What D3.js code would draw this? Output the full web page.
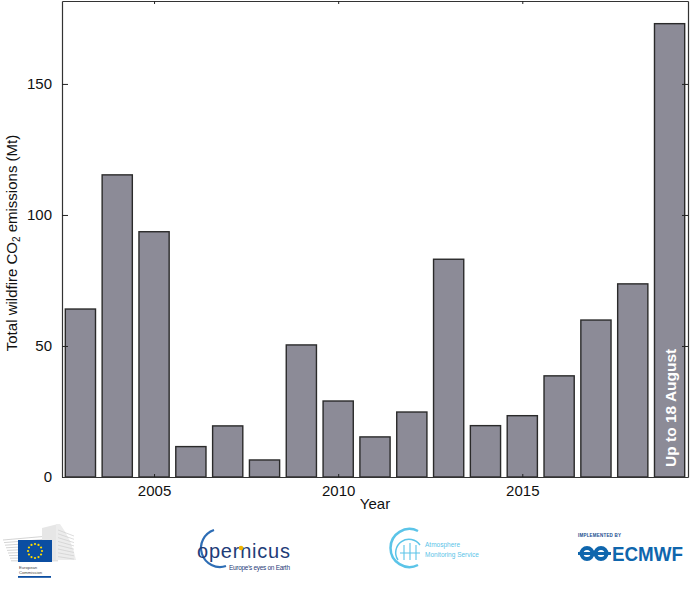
<!DOCTYPE html>
<html>
<head>
<meta charset="utf-8">
<script src="https://cdn.jsdelivr.net/npm/d3@7"></script>
<style>
  body { margin: 0; background: #fff; }
  svg { display: block; font-family: "Liberation Sans", Arial, Helvetica, sans-serif; }
</style>
</head>
<body>
<svg id="chart" width="690" height="610"></svg>
<script>
// ---- data ----
const years = [2003, 2004, 2005, 2006, 2007, 2008, 2009, 2010, 2011, 2012, 2013, 2014, 2015, 2016, 2017, 2018, 2019];
const emissions = [64.1, 115.3, 93.6, 11.6, 19.5, 6.5, 50.4, 29.0, 15.3, 24.8, 83.1, 19.6, 23.4, 38.6, 59.9, 73.7, 173.0];
const yTicks = [0, 50, 100, 150];
const xTicks = [2005, 2010, 2015];
const xLabel = "Year";
const noteText = "Up to 18 August";

// ---- layout ----
const svg = d3.select("#chart");
const m = { left: 62, right: 688, top: 1, bottom: 477 };
const x = d3.scaleLinear().domain([2002.5, 2019.5]).range([m.left, m.right]);
const y = d3.scaleLinear().domain([0, 173.0 * 1.05]).range([m.bottom, m.top]);
const barHalf = 0.41;

const data = years.map((yr, i) => ({ year: yr, value: emissions[i] }));

// bars
svg.append("g").selectAll("rect").data(data).join("rect")
  .attr("x", d => x(d.year - barHalf))
  .attr("width", d => x(d.year + barHalf) - x(d.year - barHalf))
  .attr("y", d => y(d.value))
  .attr("height", d => y(0) - y(d.value))
  .attr("fill", "#8c8b97")
  .attr("stroke", "#2a2a2a")
  .attr("stroke-width", 1.4);

// note inside last bar
const last = data[data.length - 1];
svg.append("text")
  .attr("transform", `translate(${x(last.year) + 6},${y(0) - 10}) rotate(-90)`)
  .attr("fill", "#fff")
  .attr("font-weight", "bold")
  .attr("font-size", 15.5)
  .text(noteText);

// axes
function styleAxis(g) {
  g.select(".domain").attr("stroke", "#333").attr("stroke-width", 1.2);
  g.selectAll(".tick line").attr("stroke", "#222").attr("stroke-width", 1);
  g.selectAll(".tick text").attr("fill", "#111").attr("font-size", 15)
    .attr("font-family", "'Liberation Sans', Arial, sans-serif");
}
svg.append("g").attr("transform", `translate(${m.left},0)`)
  .call(d3.axisLeft(y).tickValues(yTicks).tickSizeInner(-6).tickSizeOuter(0).tickPadding(10))
  .call(styleAxis);
svg.append("g").attr("transform", `translate(${m.right},0)`)
  .call(d3.axisRight(y).tickValues(yTicks).tickSizeInner(-6).tickSizeOuter(0).tickFormat(""))
  .call(styleAxis);
svg.append("g").attr("transform", `translate(0,${m.bottom})`)
  .call(d3.axisBottom(x).tickValues(xTicks).tickSizeInner(-3).tickSizeOuter(0).tickPadding(8).tickFormat(d3.format("d")))
  .call(styleAxis);
svg.append("g").attr("transform", `translate(0,${m.top})`)
  .call(d3.axisTop(x).tickValues(xTicks).tickSizeInner(-3).tickSizeOuter(0).tickFormat(""))
  .call(styleAxis);

// axis titles
svg.append("text")
  .attr("x", (m.left + m.right) / 2).attr("y", 509)
  .attr("text-anchor", "middle").attr("font-size", 15).attr("fill", "#111")
  .text(xLabel);

const yl = svg.append("text")
  .attr("transform", `translate(17,${(m.top + m.bottom) / 2 + 4}) rotate(-90)`)
  .attr("text-anchor", "middle").attr("font-size", 15).attr("fill", "#111");
yl.append("tspan").text("Total wildfire CO");
yl.append("tspan").attr("font-size", 10).attr("dy", 3).text("2");
yl.append("tspan").attr("dy", -3).text(" emissions (Mt)");

// ---- logos (simplified) ----
const logos = svg.append("g");

// European Commission
const ec = logos.append("g");
for (let i = 0; i < 9; i++) {
  ec.append("line").attr("x1", 3 + i * 1).attr("x2", 58)
    .attr("y1", 540 + i * 2.6).attr("y2", 540 + i * 2.6 - (8 - i) * 0.6)
    .attr("stroke", "#c9c9c9").attr("stroke-width", 0.8);
}
ec.append("path").attr("d", "M 42 528 L 58 524 L 58 560 L 42 560 Z").attr("fill", "#e6e6e6");
ec.append("path").attr("d", "M 56 524 L 60 524 Q 72 540 76 560 L 56 560 Z").attr("fill", "#ececec");
for (let i = 0; i < 8; i++) {
  ec.append("line").attr("x1", 58).attr("x2", 74)
    .attr("y1", 530 + i * 3.8).attr("y2", 536 + i * 3.3)
    .attr("stroke", "#cfcfcf").attr("stroke-width", 0.7);
}
ec.append("rect").attr("x", 18).attr("y", 540).attr("width", 34).attr("height", 22).attr("fill", "#0b4ea2");
d3.range(12).forEach(k => {
  const a = k / 12 * 2 * Math.PI;
  ec.append("circle").attr("cx", 35 + 7 * Math.cos(a)).attr("cy", 551 + 7 * Math.sin(a)).attr("r", 1.1).attr("fill", "#ffdd00");
});
ec.append("text").attr("x", 19).attr("y", 568.5).attr("font-size", 4.2).attr("fill", "#444").text("European");
ec.append("text").attr("x", 19).attr("y", 574).attr("font-size", 4.2).attr("fill", "#444").text("Commission");
ec.append("rect").attr("x", 18).attr("y", 576).attr("width", 33).attr("height", 1.8).attr("fill", "#0b4ea2");

// Copernicus
const cop = logos.append("g");
cop.append("path").attr("d", "M 214 530 A 18 18 0 1 0 226 566")
  .attr("fill", "none").attr("stroke", "#2d6db5").attr("stroke-width", 2.2);
cop.append("text").attr("x", 197).attr("y", 558).attr("font-size", 20).attr("fill", "#1f3c78")
  .attr("textLength", 93).text("opernicus");
cop.append("circle").attr("cx", 241).attr("cy", 548).attr("r", 2.3).attr("fill", "#f2b400");
cop.append("text").attr("x", 229).attr("y", 570).attr("font-size", 6.5).attr("fill", "#1f3c78")
  .attr("textLength", 61).text("Europe's eyes on Earth");

// Atmosphere Monitoring Service
const cams = logos.append("g");
cams.append("path").attr("d", "M 418 531 A 19 19 0 1 0 418 565")
  .attr("fill", "none").attr("stroke", "#5bc4e8").attr("stroke-width", 2.5);
cams.append("path").attr("d", "M 398 560 A 12 12 0 0 1 420 545")
  .attr("fill", "none").attr("stroke", "#5bc4e8").attr("stroke-width", 1.5);
cams.append("path").attr("d", "M 400 553 L 420 553 M 404 545 L 404 560 M 410 543 L 410 560 M 416 545 L 416 560")
  .attr("fill", "none").attr("stroke", "#5bc4e8").attr("stroke-width", 1.1);
cams.append("text").attr("x", 425).attr("y", 547).attr("font-size", 6.5).attr("fill", "#5bc4e8").text("Atmosphere");
cams.append("text").attr("x", 425).attr("y", 557).attr("font-size", 6.5).attr("fill", "#5bc4e8").text("Monitoring Service");

// ECMWF
const ecm = logos.append("g");
ecm.append("text").attr("x", 578).attr("y", 537).attr("font-size", 4.5).attr("font-weight", "bold")
  .attr("fill", "#1a4d8f").attr("textLength", 43).text("IMPLEMENTED BY");
ecm.append("circle").attr("cx", 587).attr("cy", 553.5).attr("r", 5.5)
  .attr("fill", "none").attr("stroke", "#0f66ad").attr("stroke-width", 4);
ecm.append("circle").attr("cx", 601).attr("cy", 553.5).attr("r", 5.5)
  .attr("fill", "none").attr("stroke", "#0f66ad").attr("stroke-width", 4);
ecm.append("rect").attr("x", 578).attr("y", 552).attr("width", 33).attr("height", 3).attr("fill", "#0f66ad");
ecm.append("text").attr("x", 612).attr("y", 561).attr("font-size", 20).attr("font-weight", "bold")
  .attr("fill", "#0f66ad").attr("textLength", 71).attr("lengthAdjust", "spacingAndGlyphs").text("ECMWF");
</script>
</body>
</html>
